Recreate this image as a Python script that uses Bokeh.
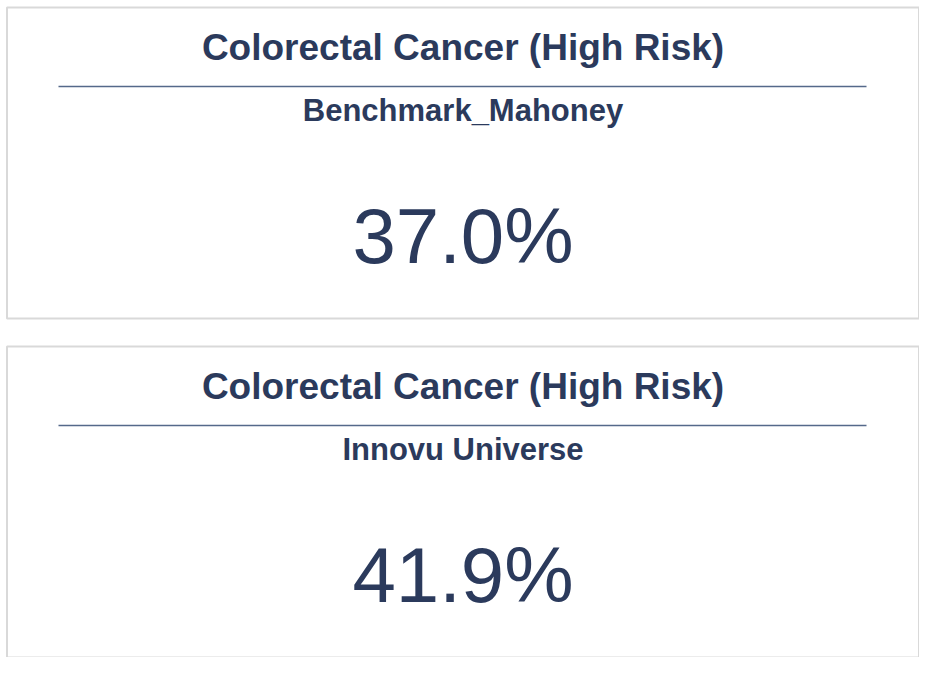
from bokeh.plotting import figure
from bokeh.models import Range1d, ColumnDataSource
from bokeh.core.properties import value
from bokeh.embed import file_html
from bokeh.resources import INLINE

titles = ["Colorectal Cancer (High Risk)", "Colorectal Cancer (High Risk)"]
subtitles = ["Benchmark_Mahoney", "Innovu Universe"]
values = [37.0, 41.9]

W, H = 919, 657
p = figure(width=W, height=H, output_backend="svg", toolbar_location=None,
           x_range=Range1d(-6, W - 6), y_range=Range1d(H - 6, -6), min_border=0)
p.axis.visible = False
p.grid.visible = False
p.outline_line_color = None

card_top = [1, 340]
card_h = 311
col = "#2b3a5c"
src = ColumnDataSource(dict(
    x=[W / 2 - 3] * 2, yc=[t + card_h / 2 for t in card_top],
    ty=[t + 40 for t in card_top], ly=[t + 79 for t in card_top],
    sy=[t + 103 for t in card_top], vy=[t + 228 for t in card_top],
    x0=[52] * 2, x1=[860] * 2,
    title=titles, sub=subtitles, val=[f"{v:.1f}%" for v in values]))

p.rect(x="x", y="yc", width=912, height=card_h, source=src,
       fill_color="white", line_color="#d9d9d9", line_width=2)
p.segment(x0="x0", y0="ly", x1="x1", y1="ly", source=src, line_color="#55698a", line_width=1.5)
p.text(x="x", y="ty", text="title", source=src, text_align="center", text_baseline="middle",
       text_font=value("Liberation Sans"), text_font_size="37px", text_font_style="bold",
       text_color=col)
p.text(x="x", y="sy", text="sub", source=src, text_align="center", text_baseline="middle",
       text_font=value("Liberation Sans"), text_font_size="31px", text_font_style="bold",
       text_color=col)
p.text(x="x", y="vy", text="val", source=src, text_align="center", text_baseline="middle",
       text_font=value("Liberation Sans"), text_font_size="78px", text_color=col)

open("out.html", "w").write(file_html(p, INLINE))
